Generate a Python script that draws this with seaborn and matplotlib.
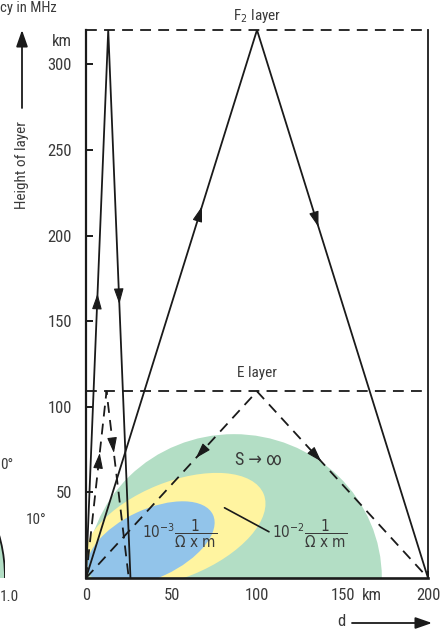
import numpy as np
import pandas as pd
import matplotlib
matplotlib.use('Agg')
import matplotlib.pyplot as plt
from matplotlib.patches import Ellipse
import seaborn as sns

sns.set_theme(style='white')
plt.rcParams['font.family'] = ['Liberation Sans Narrow', 'Roboto Condensed', 'DejaVu Sans']
plt.rcParams['font.stretch'] = 'condensed'
plt.rcParams['mathtext.fontset'] = 'custom'
plt.rcParams['mathtext.rm'] = 'DejaVu Sans:stretch=condensed'
plt.rcParams['mathtext.it'] = 'DejaVu Sans:italic:stretch=condensed'

# ray paths: distance d (km) and height (km)
f2_short_d = [0, 13, 26]
f2_short_h = [0, 320, 0]
f2_long_d = [0, 100, 200]
f2_long_h = [0, 320, 0]
e_short_d = [0, 12, 25]
e_short_h = [0, 109, 0]
e_long_d = [0, 100, 200]
e_long_h = [0, 109, 0]

f2_height = 320
e_height = 109

# ground zones: centre d, centre h, width, height, tilt
zone_d = [86.5, 52, 38]
zone_h = [0, 28, 20]
zone_w = [173, 112, 80]
zone_hh = [168, 56, 40]
zone_tilt = [0, 22, 25]
zone_colors = ['#b3dec5', '#fff4a0', '#92c4ea']

x_ticks = [0, 50, 100, 150, 200]
y_ticks = [50, 100, 150, 200, 250, 300]

ink = '#1a1a1a'
txt = '#3a3a3a'

fig = plt.figure(figsize=(4.48, 6.32), dpi=100)
ax = fig.add_axes([86/448, 54/632, 342/448, 548/632])

for cd, ch, w, hh, a, c in zip(zone_d, zone_h, zone_w, zone_hh, zone_tilt, zone_colors):
    ax.add_patch(Ellipse((cd, ch), w, hh, angle=a, facecolor=c, edgecolor='none', zorder=1))

# rays
for xs, ys, dashed in [(f2_short_d, f2_short_h, False), (f2_long_d, f2_long_h, False),
                       (e_short_d, e_short_h, True), (e_long_d, e_long_h, True)]:
    sns.lineplot(x=xs, y=ys, sort=False, estimator=None, color=ink, lw=1.3,
                 linestyle=(0, (6, 4)) if dashed else '-', ax=ax, zorder=3)

# layers
ax.plot([0, 200], [f2_height, f2_height], color=ink, lw=1.3, ls=(0, (6, 4)), clip_on=False, zorder=3)
ax.plot([0, 200], [e_height, e_height], color=ink, lw=1.3, ls=(0, (6, 4)), zorder=3)


def add_arrow(xs, ys, seg, tip_h, sign=1):
    d0, h0, d1, h1 = xs[seg], ys[seg], xs[seg + 1], ys[seg + 1]
    t = (tip_h - h0) / (h1 - h0)
    tip = np.array([d0 + t * (d1 - d0), tip_h])
    v = np.array([d1 - d0, h1 - h0], dtype=float)
    v = sign * v / np.hypot(*v)
    ax.annotate('', xy=tip, xytext=tip - 8 * v,
                arrowprops=dict(arrowstyle='-|>,head_length=0.95,head_width=0.3',
                                color=ink, lw=0.8, shrinkA=0, shrinkB=0, mutation_scale=10),
                zorder=4)


add_arrow(f2_short_d, f2_short_h, 0, 166)
add_arrow(f2_short_d, f2_short_h, 1, 160)
add_arrow(f2_long_d, f2_long_h, 0, 217)
add_arrow(f2_long_d, f2_long_h, 1, 205)
add_arrow(e_short_d, e_short_h, 0, 73)
add_arrow(e_short_d, e_short_h, 1, 73)
add_arrow(e_long_d, e_long_h, 0, 70, sign=-1)
add_arrow(e_long_d, e_long_h, 1, 68)

ax.set_xlim(0, 200)
ax.set_ylim(0, 320)
ax.set_xticks(x_ticks)
ax.set_yticks(y_ticks)
ax.set_xlabel('')
ax.set_ylabel('')
ax.spines['top'].set_visible(False)
for s in ['left', 'right', 'bottom']:
    ax.spines[s].set_color(ink)
ax.spines['left'].set_linewidth(1.6)
ax.spines['right'].set_linewidth(1.3)
ax.spines['bottom'].set_linewidth(1.9)
ax.tick_params(axis='both', direction='in', length=5, width=1.4, color=ink,
               labelsize=12, labelcolor=txt)
ax.tick_params(axis='x', pad=7, top=False, bottom=True)
ax.tick_params(axis='y', pad=10, right=False, left=True)

# labels inside the plot
ax.text(-8, 313.5, 'km', ha='right', va='center', fontsize=12, color=txt)
ax.text(167, -10, 'km', ha='center', va='center', fontsize=12, color=txt)
ax.text(100, 328, 'F$_2$ layer', ha='center', va='center', fontsize=11, color=txt)
ax.text(100, 120, 'E layer', ha='center', va='center', fontsize=11, color=txt)
ax.text(101, 69, 'S \u2192 \u221e', ha='center', va='center', fontsize=13, color=txt)
ax.text(33, 26, r'$10^{-3}\dfrac{1}{\Omega\ \mathrm{x}\ \mathrm{m}}$', ha='left', va='center',
        fontsize=11, color=txt)
ax.text(109, 26, r'$10^{-2}\dfrac{1}{\Omega\ \mathrm{x}\ \mathrm{m}}$', ha='left', va='center',
        fontsize=11, color=txt)
ax.plot([81, 107], [41, 27], color=ink, lw=1.2, zorder=3)

# axis titles with arrows
fig.text(22/448, 1 - 165/632, 'Height of layer', rotation=90, ha='center', va='center',
         fontsize=11, color=txt)
ax.annotate('', xy=(22, 632 - 30), xytext=(22, 632 - 108), xycoords='figure pixels',
            arrowprops=dict(arrowstyle='-|>,head_length=1.0,head_width=0.35', color=ink,
                            lw=1.3, shrinkA=0, shrinkB=0, mutation_scale=10))
fig.text(341/448, 10/632, 'd', ha='center', va='center', fontsize=12, color=txt)
ax.annotate('', xy=(432, 9), xytext=(352, 9), xycoords='figure pixels',
            arrowprops=dict(arrowstyle='-|>,head_length=1.0,head_width=0.35', color=ink,
                            lw=1.3, shrinkA=0, shrinkB=0, mutation_scale=10))

# visible pieces of the neighbouring chart
fig.text(0, 1 - 1/632, 'cy in MHz', ha='left', va='top', fontsize=10.5, color=txt)
fig.text(0, 1 - 465/632, '0\u00b0', ha='left', va='center', fontsize=11, color=txt)
fig.text(46/448, 1 - 520/632, '10\u00b0', ha='right', va='center', fontsize=11, color=txt)
fig.text(0, 1 - 597/632, '1.0', ha='left', va='center', fontsize=11, color=txt)
frag = fig.add_axes([-50/448, 54/632, 55/448, 100/632])
frag.add_patch(Ellipse((0, 0), 2.0, 1.9, facecolor='#b3dec5', edgecolor=ink, lw=1.3))
frag.set_xlim(0, 1)
frag.set_ylim(0, 1)
frag.axis('off')

fig.savefig('out.png', dpi=100)
